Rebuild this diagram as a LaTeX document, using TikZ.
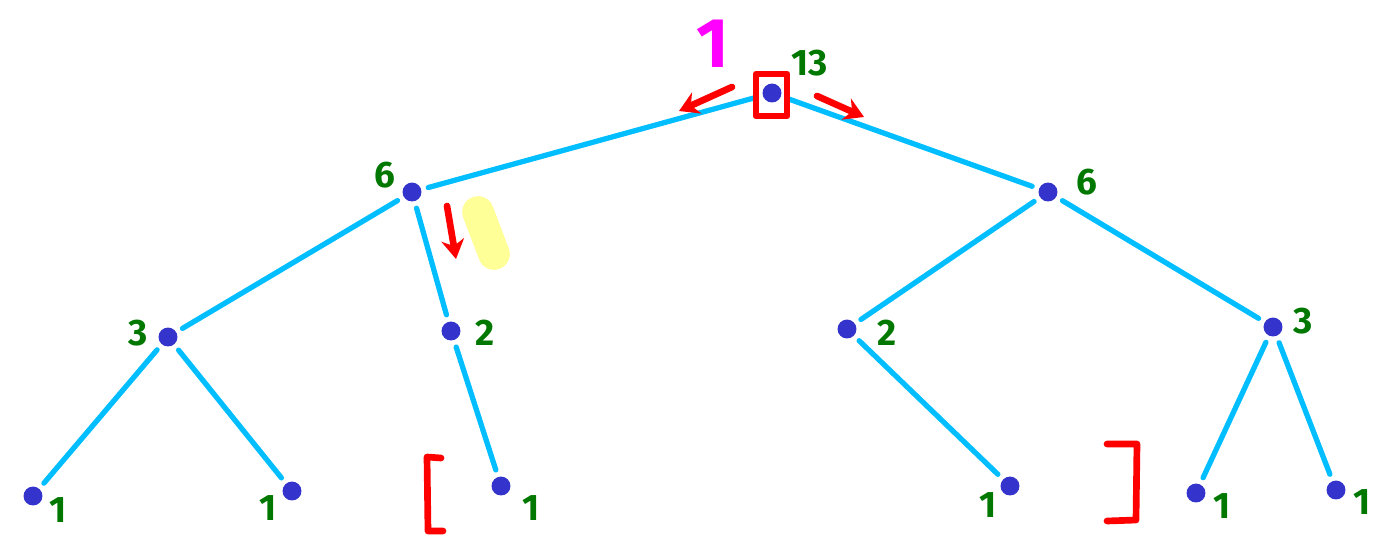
\documentclass[tikz,border=0pt]{standalone}
\usepackage{fontspec}
\setmainfont{Fira Sans}
\usetikzlibrary{arrows.meta}
\definecolor{edgec}{RGB}{0,190,255}
\definecolor{dotc}{RGB}{52,52,204}
\definecolor{numc}{RGB}{0,120,0}
\definecolor{markc}{RGB}{255,0,0}
\definecolor{magc}{RGB}{255,0,255}
\definecolor{hlc}{RGB}{255,255,140}
\begin{document}
\begin{tikzpicture}[x=0.02cm,y=-0.02cm,
  vert/.style={circle,fill=dotc,inner sep=0pt,minimum size=19*0.567pt},
  edge/.style={draw=edgec,line width=3pt,line cap=round,shorten <=4pt,shorten >=4pt},
  num/.style={text=numc,font=\fontsize{21}{23}\selectfont\bfseries,inner sep=0pt},
  redpen/.style={draw=markc,line width=3.8pt,line cap=round,line join=round},
  arr/.style={redpen,-{Stealth[length=11pt,width=13pt]}}]
\useasboundingbox (0,0) rectangle (1384,549);
% highlight
\draw[hlc,line width=18pt,line cap=round,opacity=0.9] (478,212) -- (494,254);
% vertices
\node[vert] (r) at (772,93) {};
\node[vert] (a) at (412,192) {};
\node[vert] (b) at (1048,192) {};
\node[vert] (c) at (168,337) {};
\node[vert] (d) at (451,331) {};
\node[vert] (e) at (847,329) {};
\node[vert] (f) at (1273,327) {};
\node[vert] (g) at (33,496) {};
\node[vert] (h) at (292,491) {};
\node[vert] (i) at (501,486) {};
\node[vert] (j) at (1010,486) {};
\node[vert] (k) at (1196,493) {};
\node[vert] (l) at (1336,490) {};
% edges
\draw[edge] (r) -- (a);
\draw[edge] (r) -- (b);
\draw[edge] (a) -- (c);
\draw[edge] (a) -- (d);
\draw[edge] (b) -- (e);
\draw[edge] (b) -- (f);
\draw[edge] (c) -- (g);
\draw[edge] (c) -- (h);
\draw[edge] (d) -- (i);
\draw[edge] (e) -- (j);
\draw[edge] (f) -- (k);
\draw[edge] (f) -- (l);
% labels
\node[num] (nr) at (810,63) {13};
\node[num] (na) at (385,175) {6};
\node[num] (nb) at (1087,182) {6};
\node[num] (nc) at (138,333) {3};
\node[num] (nd) at (485,333) {2};
\node[num] (ne) at (887,333) {2};
\node[num] (nf) at (1303,321) {3};
\node[num] (ng) at (58,510) {1};
\node[num] (nh) at (268,508) {1};
\node[num] (ni) at (531,508) {1};
\node[num] (nj) at (988,505) {1};
\node[num] (nk) at (1222,506) {1};
\node[num] (nl) at (1362,502) {1};
\node[text=magc,font=\fontsize{40}{44}\selectfont\bfseries,inner sep=0pt] (top) at (713,44) {1};
% red marks
\draw[redpen] (756,74) rectangle (787,116);
\coordinate (la1) at (732,87);
\coordinate (la2) at (679,111);
\draw[arr] (la1) -- (la2);
\coordinate (ra1) at (817,96);
\coordinate (ra2) at (864,117);
\draw[arr] (ra1) -- (ra2);
\coordinate (da1) at (447,206);
\coordinate (da2) at (456,259);
\draw[arr] (da1) -- (da2);
\draw[redpen] (441,458) -- (427,457) -- (428,531) -- (443,531);
\draw[redpen] (1107,444) -- (1137,444) -- (1136,520) -- (1107,521);
\end{tikzpicture}
\end{document}
